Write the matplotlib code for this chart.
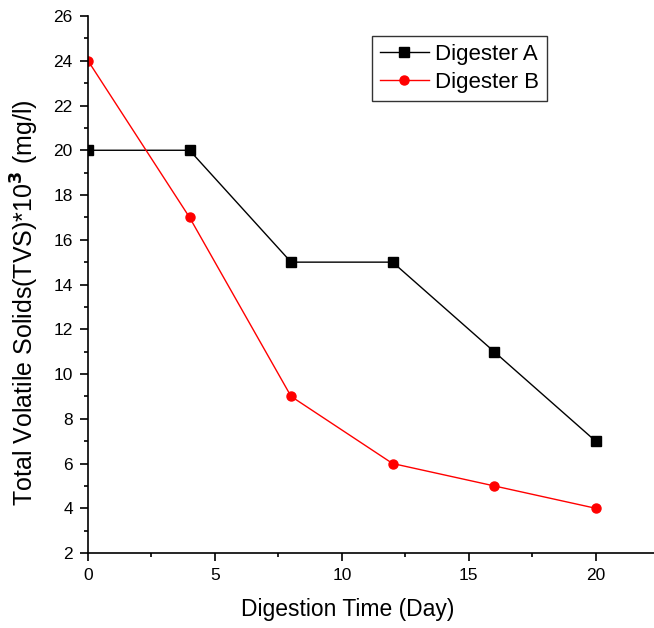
import matplotlib
matplotlib.use('Agg')
import matplotlib.pyplot as plt
from matplotlib.ticker import MultipleLocator

plt.rcParams['font.family'] = ['Liberation Sans', 'DejaVu Sans']

# digestion time in days and total volatile solids (x10^3 mg/l)
days = [0, 4, 8, 12, 16, 20]
tvs_a = [20, 20, 15, 15, 11, 7]
tvs_b = [24, 17, 9, 6, 5, 4]

fig = plt.figure(figsize=(6.54, 6.28), dpi=100)
ax = fig.add_axes([0.1346, 0.1194, 0.8654, 0.8551])

ax.plot(days, tvs_a, color='black', lw=1, marker='s', ms=6.5, label='Digester A')
ax.plot(days, tvs_b, color='red', lw=1, marker='o', ms=6.5, label='Digester B')

ax.set_xlim(0, 22.3)
ax.set_ylim(2, 26)
ax.xaxis.set_major_locator(MultipleLocator(5))
ax.xaxis.set_minor_locator(MultipleLocator(2.5))
ax.yaxis.set_major_locator(MultipleLocator(2))
ax.yaxis.set_minor_locator(MultipleLocator(1))
ax.tick_params(which='both', direction='out', labelsize=12.5, width=1.2)
ax.tick_params(which='major', length=6, pad=5)
ax.tick_params(which='minor', length=3)
for s in ['top', 'right']:
    ax.spines[s].set_visible(False)
for s in ['left', 'bottom']:
    ax.spines[s].set_linewidth(1.2)

ax.set_xlabel('Digestion Time (Day)', fontsize=16.5)
ax.set_ylabel('Total Volatile Solids(TVS)*10$^{\\mathbf{3}}$ (mg/l)', fontsize=18)
ax.xaxis.set_label_coords(0.458, -0.083)
ax.yaxis.set_label_coords(-0.083, 0.467)

leg = ax.legend(loc='upper left', bbox_to_anchor=(0.502, 0.962), fontsize=16,
                fancybox=False, edgecolor='black', handlelength=2.2,
                borderpad=0.35, labelspacing=0.3, handletextpad=0.3,
                borderaxespad=0)
leg.get_frame().set_linewidth(1)

fig.savefig('out.png', dpi=100)
